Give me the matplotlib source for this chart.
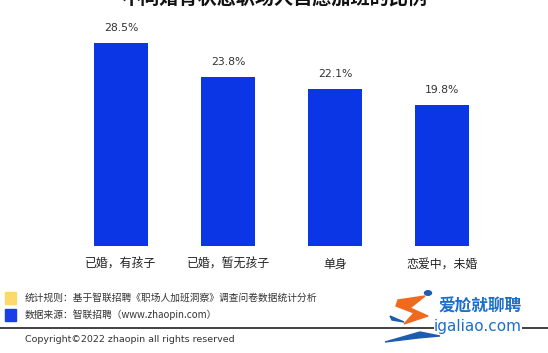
import matplotlib
matplotlib.use("Agg")
import matplotlib.pyplot as plt
from matplotlib.patches import Rectangle, Polygon

plt.rcParams['font.family'] = ['Noto Sans CJK SC', 'DejaVu Sans']

title = "不同婚育状态职场人自愿加班的比例"
categories = ["已婚，有孩子", "已婚，暂无孩子", "单身", "恋爱中，未婚"]
values = [28.5, 23.8, 22.1, 19.8]
notes = ["统计规则：基于智联招聘《职场人加班洞察》调查问卷数据统计分析",
         "数据来源：智联招聘（www.zhaopin.com）"]
note_colors = ["#fdd96b", "#1a3fe6"]
copyright_text = "Copyright©2022 zhaopin all rights reserved"

W, H = 548, 353
fx = lambda x: x / W
fy = lambda y: 1 - y / H

fig = plt.figure(figsize=(W / 100, H / 100), dpi=100)
fig.patch.set_facecolor("white")

# bar area: baseline at y=246 px, 7.12 px per percent, 107 px between bars
ax = fig.add_axes([0, fy(246), 1, 30 * 7.12 / H])
x = range(len(values))
ax.bar(x, values, width=0.505, color="#0a36e6")
for xi, v in zip(x, values):
    ax.text(xi, v + 2.1, f"{v:.1f}%", ha="center", va="center",
            fontsize=7.8, color="#333333", family="DejaVu Sans")
ax.set_xlim(-121 / 107, (W - 121) / 107)
ax.set_ylim(0, 30)
ax.axis("off")

for xi, c in zip(x, categories):
    fig.text(fx(121 + 107 * xi), fy(264), c, ha="center", va="center",
             fontsize=8.6, color="#222222")

# title, partly cut off at the top edge (as in the reference)
fig.text(0.5, fy(-1), title, ha="center", va="center", fontsize=13.8,
         fontweight="bold", color="#111111")

# notes with coloured squares
for i, (t, col) in enumerate(zip(notes, note_colors)):
    yc = 298 + 17 * i
    fig.patches.append(Rectangle((fx(5), fy(yc + 6)), fx(11), 12 / H,
                                 transform=fig.transFigure, color=col))
    fig.text(fx(25), fy(yc), t, ha="left", va="center", fontsize=7.0,
             color="#333333")

fig.add_artist(plt.Line2D([0, 1], [fy(328), fy(328)], color="#333333",
                          linewidth=1.3, transform=fig.transFigure))
fig.text(fx(25), fy(339), copyright_text, ha="left", va="center",
         fontsize=6.8, color="#333333", family="DejaVu Sans")

# watermark logo
orange = [(398, 300), (425, 296), (410, 308), (428, 316), (404, 324), (414, 313), (396, 306)]
fig.patches.append(Polygon([(fx(a), fy(b)) for a, b in orange], closed=True,
                           transform=fig.transFigure, color="#f06a1e"))
swoosh = [(385, 342), (420, 332), (440, 336), (418, 338)]
fig.patches.append(Polygon([(fx(a), fy(b)) for a, b in swoosh], closed=True,
                           transform=fig.transFigure, color="#1c5db0"))
fig.patches.append(Polygon([(fx(a), fy(b)) for a, b in [(390, 316), (404, 322), (392, 320)]],
                           closed=True, transform=fig.transFigure, color="#1c5db0"))
fig.add_artist(plt.Circle((fx(428), fy(293)), 3.5 / W, transform=fig.transFigure,
                          color="#1c5db0"))
fig.text(fx(438), fy(307), "爱尬就聊聘", ha="left", va="center", fontsize=12,
         color="#1c6fc8", fontweight="bold")
fig.text(fx(434), fy(326), "igaliao.com", ha="left", va="center", fontsize=11,
         color="#1c6fc8", family="DejaVu Sans",
         bbox=dict(facecolor="white", edgecolor="none", pad=0))

fig.savefig("out.png", dpi=100, facecolor="white")
